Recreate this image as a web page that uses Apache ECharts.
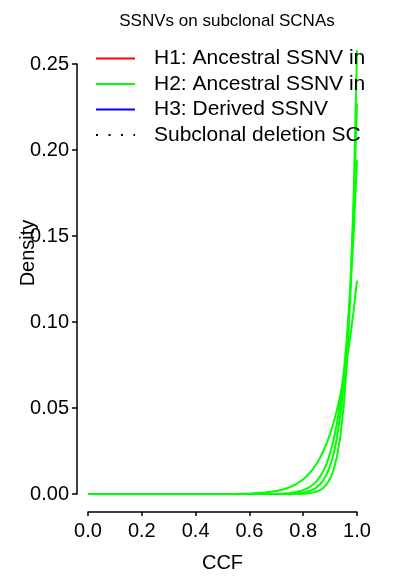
<!DOCTYPE html>
<html>
<head>
    <meta charset="utf-8">
    <title>SSNVs on subclonal SCNAs</title>
    <script src="https://cdn.jsdelivr.net/npm/echarts@6/dist/echarts.min.js"></script>
    <style>
        html, body { margin: 0; padding: 0; background: #fff; }
        #chart1 { width: 404px; height: 587px; }
    </style>
</head>
<body>
<div id="chart1"></div>
<script>
    // CCF grid (x) and the four green density curves
    var ccf = [0, 0.1, 0.2, 0.3, 0.4, 0.5, 0.55, 0.6, 0.65, 0.7, 0.725, 0.75, 0.775, 0.8,
        0.8125, 0.825, 0.8375, 0.85, 0.8625, 0.875, 0.8875, 0.9, 0.9125, 0.925, 0.9375,
        0.95, 0.9625, 0.975, 0.9875, 1.0];
    var h2a = [0, 0, 0, 0, 0, 0.00003, 0.0001, 0.00027, 0.0007, 0.0017, 0.0026, 0.0039, 0.0058, 0.0085,
        0.0103, 0.0123, 0.0148, 0.0176, 0.0210, 0.0250, 0.0296, 0.0350, 0.0413, 0.0486, 0.0572,
        0.0670, 0.0784, 0.0915, 0.1066, 0.124];
    var h2b = [0, 0, 0, 0, 0, 0, 0, 0.000007, 0.000035, 0.00015, 0.00031, 0.00062, 0.0012, 0.0022,
        0.0031, 0.0041, 0.0056, 0.0075, 0.0101, 0.0134, 0.0178, 0.0236, 0.0311, 0.0408, 0.0534,
        0.0695, 0.0904, 0.1170, 0.1508, 0.194];
    var h2c = [0, 0, 0, 0, 0, 0, 0, 0, 0, 0.00003, 0.00007, 0.00017, 0.00039, 0.00086,
        0.0013, 0.0019, 0.0027, 0.0039, 0.0056, 0.0081, 0.0115, 0.0163, 0.0230, 0.0323, 0.0452,
        0.0629, 0.0874, 0.1205, 0.1657, 0.227];
    var h2d = [0, 0, 0, 0, 0, 0, 0, 0, 0, 0, 0, 0.00003, 0.00007, 0.0002,
        0.00034, 0.00055, 0.00089, 0.0014, 0.0023, 0.0036, 0.0057, 0.0088, 0.0138, 0.0213, 0.0328,
        0.0500, 0.0760, 0.1148, 0.1724, 0.258];
    var curves = [h2a, h2b, h2c, h2d];

    var nameH1 = 'H1: Ancestral SSNV in gained allele';
    var nameH2 = 'H2: Ancestral SSNV in lost allele';
    var nameH3 = 'H3: Derived SSNV';
    var nameDel = 'Subclonal deletion SCNA';

    var font = 'Liberation Sans';

    function pairs(ys) {
        return ccf.map(function (x, i) { return [x, ys[i]]; });
    }

    var series = [{
        name: nameH1, type: 'line', data: [], symbol: 'none',
        lineStyle: {color: '#ff0000', width: 2.5}, itemStyle: {color: '#ff0000', opacity: 0}
    }];
    curves.forEach(function (c) {
        series.push({
            name: nameH2, type: 'line', data: pairs(c), symbol: 'none', clip: false,
            lineStyle: {color: '#00ff00', width: 2}, itemStyle: {color: '#00ff00', opacity: 0}
        });
    });
    series.push({
        name: nameH3, type: 'line', data: [], symbol: 'none',
        lineStyle: {color: '#0000ff', width: 2.5}, itemStyle: {color: '#0000ff', opacity: 0}
    });
    series.push({
        name: nameDel, type: 'line', data: [], symbol: 'none',
        lineStyle: {color: '#000', width: 2, type: [2, 10.5]}, itemStyle: {color: '#000', opacity: 0}
    });

    var myChart1 = echarts.init(document.getElementById('chart1'), null, {renderer: 'canvas'});
    myChart1.setOption({
        animation: false,
        textStyle: {fontFamily: font},
        title: {
            text: 'SSNVs on subclonal SCNAs',
            left: 222, top: 8, textAlign: 'center',
            textStyle: {fontFamily: font, fontSize: 17, fontWeight: 'normal', color: '#000'}
        },
        legend: {
            data: [nameH1, nameH2, nameH3, nameDel],
            orient: 'vertical',
            left: 95, top: 48, padding: 0,
            itemWidth: 39, itemHeight: 14, itemGap: 4.5,
            selectedMode: false,
            itemStyle: {opacity: 0},
            textStyle: {
                fontFamily: font, fontSize: 21, color: '#000', lineHeight: 21,
                width: 214, overflow: 'truncate', ellipsis: '', padding: [0, 0, 0, 14]
            }
        },
        grid: {left: 88, right: 47, top: 64, bottom: 93, outerBoundsMode: 'none', containLabel: false},
        xAxis: {
            type: 'value', min: 0, max: 1, interval: 0.2,
            offset: 18,
            name: 'CCF', nameLocation: 'middle', nameGap: 41, nameMoveOverlap: false,
            nameTextStyle: {fontFamily: font, fontSize: 20, color: '#000'},
            axisLine: {onZero: false, lineStyle: {color: '#000', width: 1.5}},
            axisTick: {length: 4, lineStyle: {color: '#000', width: 1.5}},
            axisLabel: {
                fontFamily: font, fontSize: 20, color: '#000', margin: 9,
                formatter: function (v) { return v.toFixed(1); }
            },
            splitLine: {show: false}
        },
        yAxis: {
            type: 'value', min: 0, max: 0.25, interval: 0.05,
            offset: 11,
            name: 'Density', nameLocation: 'middle', nameGap: 39, nameMoveOverlap: false,
            nameTextStyle: {fontFamily: font, fontSize: 20, color: '#000', padding: [0, 0, 0, 52]},
            axisLine: {show: true, onZero: false, lineStyle: {color: '#000', width: 1.5}},
            axisTick: {show: true, length: 5, lineStyle: {color: '#000', width: 1.5}},
            axisLabel: {
                fontFamily: font, fontSize: 20, color: '#000', margin: 8,
                formatter: function (v) { return v.toFixed(2); }
            },
            splitLine: {show: false}
        },
        series: series
    });
</script>
</body>
</html>
